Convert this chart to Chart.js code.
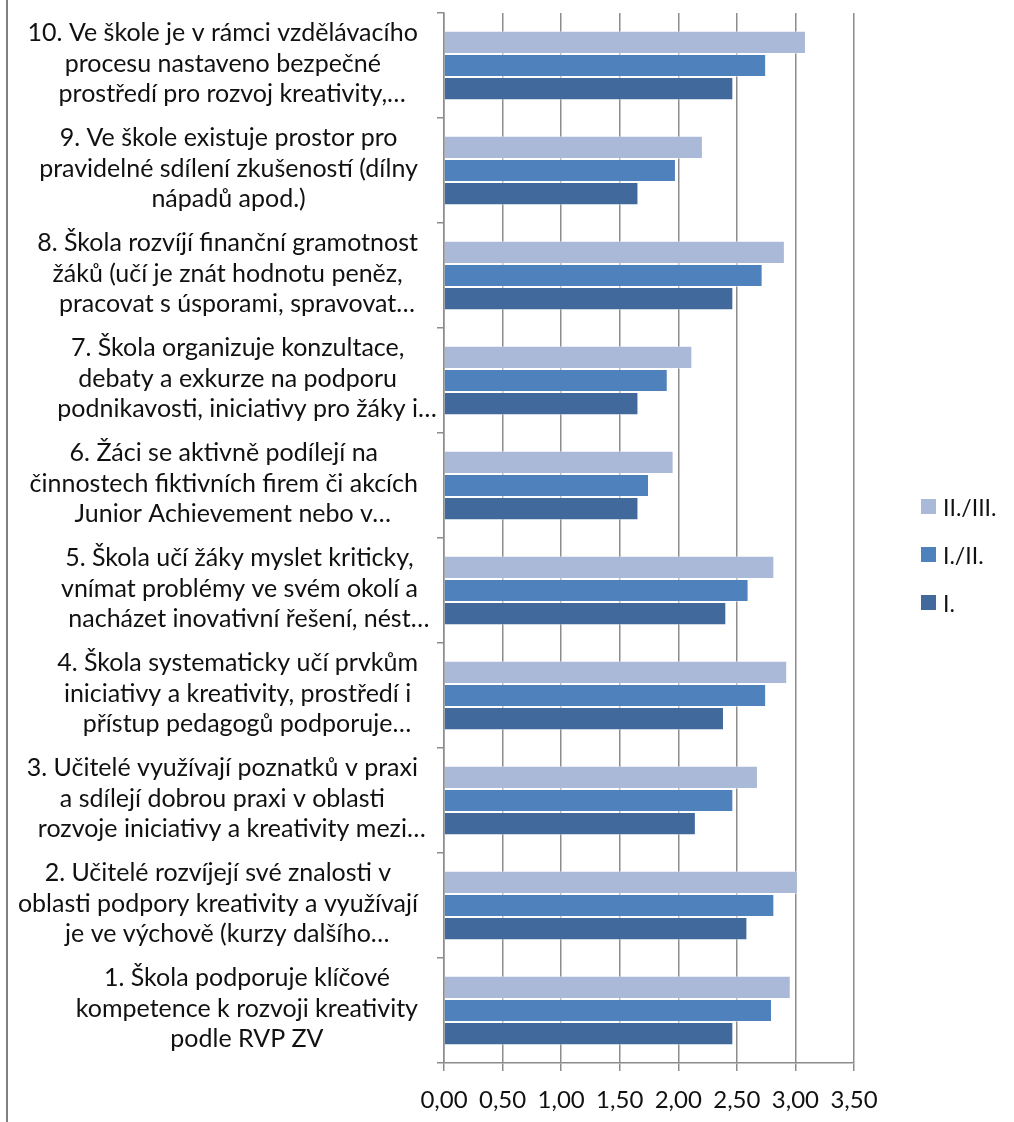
<!DOCTYPE html>
<html>
<head>
<meta charset="utf-8">
<script src="https://cdn.jsdelivr.net/npm/chart.js@4.4.0/dist/chart.umd.min.js"></script>
<style>
  body { margin: 0; background: #fff; }
  #wrap { position: relative; width: 1014px; height: 1122px; }
  #frame { position: absolute; left: 6px; top: 0; width: 2px; height: 1122px; background: #808080; z-index: 5; }
  #legend { position: absolute; left: 921px; top: 499px; font-family: Lato, sans-serif; font-size: 23px; color: #111; }
  .item { display: flex; align-items: center; height: 15px; margin-bottom: 33px; }
  .box { width: 15px; height: 15px; margin-right: 7px; }
</style>
</head>
<body>
<div id="wrap">
  <canvas id="chart"></canvas>
  <div id="frame"></div>
  <div id="legend"></div>
</div>
<script>
// categories bottom (1) to top (10), each label split in lines like the original
const categories = [
  ["1. Škola podporuje klíčové", "kompetence k rozvoji kreativity", "podle RVP ZV"],
  ["2. Učitelé rozvíjejí své znalosti v", "oblasti podpory kreativity a využívají", "je ve výchově (kurzy dalšího…"],
  ["3. Učitelé využívají poznatků v praxi", "a sdílejí dobrou praxi v oblasti", "rozvoje iniciativy a kreativity mezi…"],
  ["4. Škola systematicky učí prvkům", "iniciativy a kreativity, prostředí i", "přístup pedagogů podporuje…"],
  ["5. Škola učí žáky myslet kriticky,", "vnímat problémy ve svém okolí a", "nacházet inovativní řešení, nést…"],
  ["6. Žáci se aktivně podílejí na", "činnostech fiktivních firem či akcích", "Junior Achievement nebo v…"],
  ["7. Škola organizuje konzultace,", "debaty a exkurze na podporu", "podnikavosti, iniciativy pro žáky i…"],
  ["8. Škola rozvíjí finanční gramotnost", "žáků (učí je znát hodnotu peněz,", "pracovat s úsporami, spravovat…"],
  ["9. Ve škole existuje prostor pro", "pravidelné sdílení zkušeností (dílny", "nápadů apod.)"],
  ["10. Ve škole je v rámci vzdělávacího", "procesu nastaveno bezpečné", "prostředí pro rozvoj kreativity,…"]
];

const seriesNames = ["II./III.", "I./II.", "I."];
const valuesIIIII = [2.96, 3.02, 2.68, 2.93, 2.82, 1.96, 2.12, 2.91, 2.21, 3.09];
const valuesIII = [2.80, 2.82, 2.47, 2.75, 2.60, 1.75, 1.91, 2.72, 1.98, 2.75];
const valuesI = [2.47, 2.59, 2.15, 2.39, 2.41, 1.66, 1.66, 2.47, 1.66, 2.47];
const seriesColors = ["#AAB9D7", "#4F81BD", "#41699C"];

const xMin = 0, xMax = 3.5, xStep = 0.5;

const gridGrey = "#8c8c8c";
const LABEL_RIGHT = 418;
const LINE_H = 30.5;

// draws the multi-line category labels, each block centred on its own widest line
const yLabelPlugin = {
  id: "yLabels",
  afterDraw(chart) {
    const ctx = chart.ctx;
    const yScale = chart.scales.y;
    ctx.save();
    ctx.font = "25px Lato";
    ctx.fillStyle = "#111";
    ctx.textAlign = "left";
    ctx.textBaseline = "alphabetic";
    categories.forEach((lines, i) => {
      const cy = yScale.getPixelForValue(i);
      const widths = lines.map(l => ctx.measureText(l.replace(/…$/, "")).width);
      const block = Math.max(...widths);
      const cx = LABEL_RIGHT - block / 2;
      lines.forEach((l, j) => {
        const y = cy + 6 + (j - (lines.length - 1) / 2) * LINE_H;
        ctx.fillText(l, cx - widths[j] / 2, y);
      });
    });
    ctx.restore();
  }
};

const allValues = [valuesIIIII, valuesIII, valuesI];

const chart = new Chart(document.getElementById("chart"), {
  type: "bar",
  data: {
    labels: categories.map(c => c.join(" ")),
    datasets: seriesNames.map((name, k) => ({
      label: name,
      data: allValues[k],
      backgroundColor: seriesColors[k],
      borderColor: "rgba(255,255,255,0.45)",
      borderWidth: 1,
      categoryPercentage: 0.66,
      barPercentage: 1.0
    }))
  },
  options: {
    indexAxis: "y",
    responsive: true,
    maintainAspectRatio: false,
    animation: false,
    layout: { padding: { top: 13, right: 160, bottom: 0, left: 0 } },
    plugins: {
      legend: { display: false },
      tooltip: { enabled: false }
    },
    scales: {
      x: {
        min: xMin,
        max: xMax,
        ticks: {
          stepSize: xStep,
          color: "#111",
          font: { family: "Lato", size: 24 },
          padding: 15,
          maxRotation: 0,
          callback: v => v.toFixed(2).replace(".", ",")
        },
        grid: { color: gridGrey, lineWidth: 1.5, tickLength: 8 },
        border: { color: gridGrey, width: 1.5 },
        afterFit(scale) { scale.height = 59; }
      },
      y: {
        reverse: true,
        ticks: { display: false, autoSkip: false },
        grid: { offset: true, drawOnChartArea: false, drawTicks: true, tickLength: 7, color: gridGrey, lineWidth: 1.5 },
        border: { color: gridGrey, width: 1.5 },
        afterFit(scale) { scale.width = 444; }
      }
    }
  },
  plugins: [yLabelPlugin]
});

// legend built from the chart datasets
const legendDiv = document.getElementById("legend");
legendDiv.innerHTML = chart.data.datasets.map(ds =>
  `<div class="item"><span class="box" style="background:${ds.backgroundColor}"></span>${ds.label}</div>`
).join("");
</script>
</body>
</html>
